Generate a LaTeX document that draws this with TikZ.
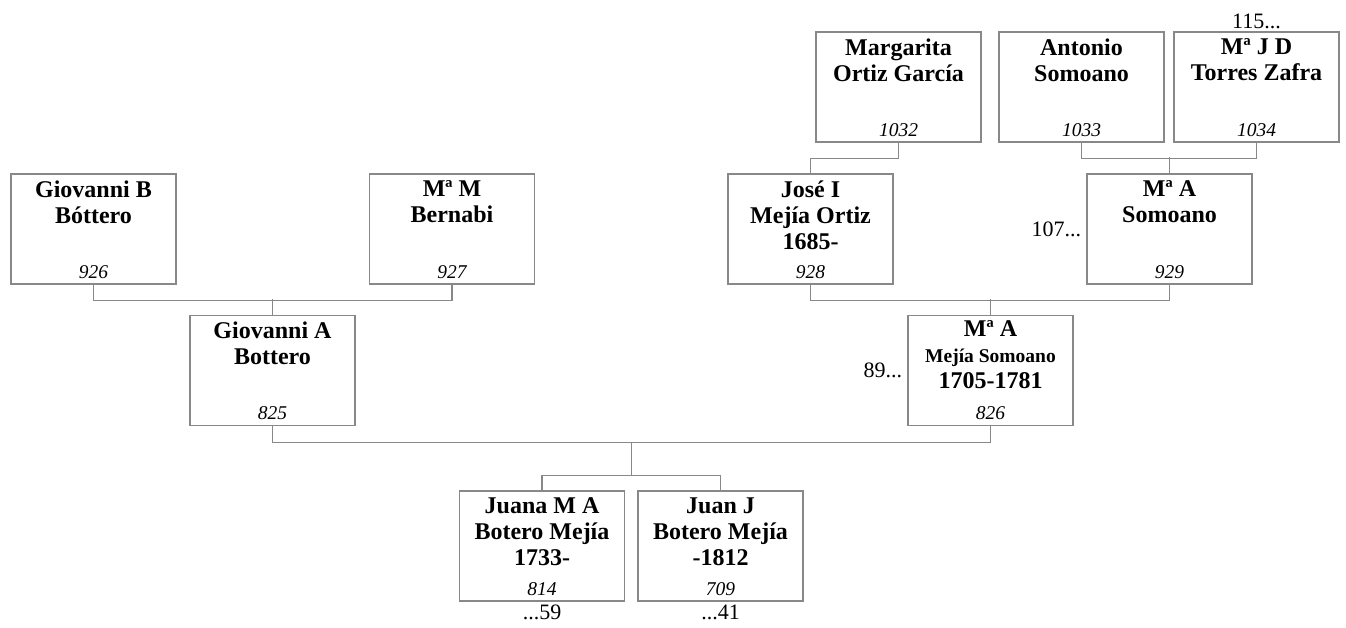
\documentclass[tikz,border=0pt]{standalone}
\usepackage{fontspec}
\setmainfont{Liberation Serif}
\usepackage{tikz}
\usetikzlibrary{calc, positioning}
\definecolor{linegray}{RGB}{136, 136, 136}

\begin{document}
\begin{tikzpicture}[
    x=1pt, y=-1pt,
    person/.style={draw=linegray, line width=1.2pt, minimum width=165pt, minimum height=110pt, inner sep=0pt},
    nm/.style={font=\fontsize{24}{26}\selectfont\bfseries, align=center, anchor=north, yshift=-7pt, inner sep=0pt, execute at begin node={\rule{0pt}{18pt}}},
    num/.style={font=\fontsize{19.5}{20}\selectfont\itshape, anchor=base, yshift=6.5pt, inner sep=0pt},
    more/.style={font=\fontsize{22}{24}\selectfont, inner sep=2pt},
    link/.style={draw=linegray, line width=1.2pt}
]
    \useasboundingbox (0,0) rectangle (1346,628);

    % great-grandparents
    \node[person] (margarita) at (898.5,87) {};
    \node[nm] at (margarita.north) {Margarita\\Ortiz García};
    \node[num] at (margarita.south) {1032};
    \node[person] (antonio) at (1081.5,87) {};
    \node[nm] at (antonio.north) {Antonio\\Somoano};
    \node[num] at (antonio.south) {1033};
    \node[person] (torres) at (1256.5,87) {};
    \node[nm] at (torres.north) {Mª J D\\Torres Zafra};
    \node[num] at (torres.south) {1034};

    % grandparents
    \node[person] (giovb) at (93.5,229) {};
    \node[nm] at (giovb.north) {Giovanni B\\Bóttero};
    \node[num] at (giovb.south) {926};
    \node[person] (bernabi) at (452,229) {};
    \node[nm] at (bernabi.north) {Mª M\\Bernabi};
    \node[num] at (bernabi.south) {927};
    \node[person] (jose) at (810.5,229) {};
    \node[nm] at (jose.north) {José I\\Mejía Ortiz\\1685-};
    \node[num] at (jose.south) {928};
    \node[person] (somoano) at (1169.5,229) {};
    \node[nm] at (somoano.north) {Mª A\\Somoano};
    \node[num] at (somoano.south) {929};

    % parents
    \node[person] (giova) at (272.5,370.5) {};
    \node[nm] at (giova.north) {Giovanni A\\Bottero};
    \node[num] at (giova.south) {825};
    \node[person] (maria) at (990.5,370.5) {};
    \node[nm, yshift=2pt] at (maria.north) {Mª A\\{\fontsize{19.5}{26}\selectfont Mejía Somoano}\\1705-1781};
    \node[num] at (maria.south) {826};

    % children
    \node[person] (juana) at (542,546) {};
    \node[nm] at (juana.north) {Juana M A\\Botero Mejía\\1733-};
    \node[num] at (juana.south) {814};
    \node[person] (juan) at (720.5,546) {};
    \node[nm] at (juan.north) {Juan J\\Botero Mejía\\-1812};
    \node[num] at (juan.south) {709};

    % continuation marks
    \node[more, above=0pt of torres] (m115) {115...};
    \node[more, left=3pt of somoano] (m107) {107...};
    \node[more, left=3pt of maria] (m89) {89...};
    \node[more, below=1pt of juana] (m59) {...59};
    \node[more, below=1pt of juan] (m41) {...41};

    % family lines
    \draw[link] (margarita.south) -- ++(0,16) -| (jose.north);
    \draw[link] (antonio.south) -- ++(0,16) -| (torres.south);
    \draw[link] (somoano.north) -- ++(0,-16);
    \draw[link] (giovb.south) -- ++(0,16) -| (bernabi.south);
    \draw[link] (giova.north) -- ++(0,-16);
    \draw[link] (jose.south) -- ++(0,16) -| (somoano.south);
    \draw[link] (maria.north) -- ++(0,-16);
    \draw[link] (giova.south) -- ++(0,16) coordinate (fam) -| (maria.south);
    \draw[link] (juana.north) -- ++(0,-15) -| (juan.north);
    \coordinate (sib) at ($(juana.north)!0.5!(juan.north)+(0,-15)$);
    \draw[link] (sib) -- (sib |- fam);
\end{tikzpicture}
\end{document}
